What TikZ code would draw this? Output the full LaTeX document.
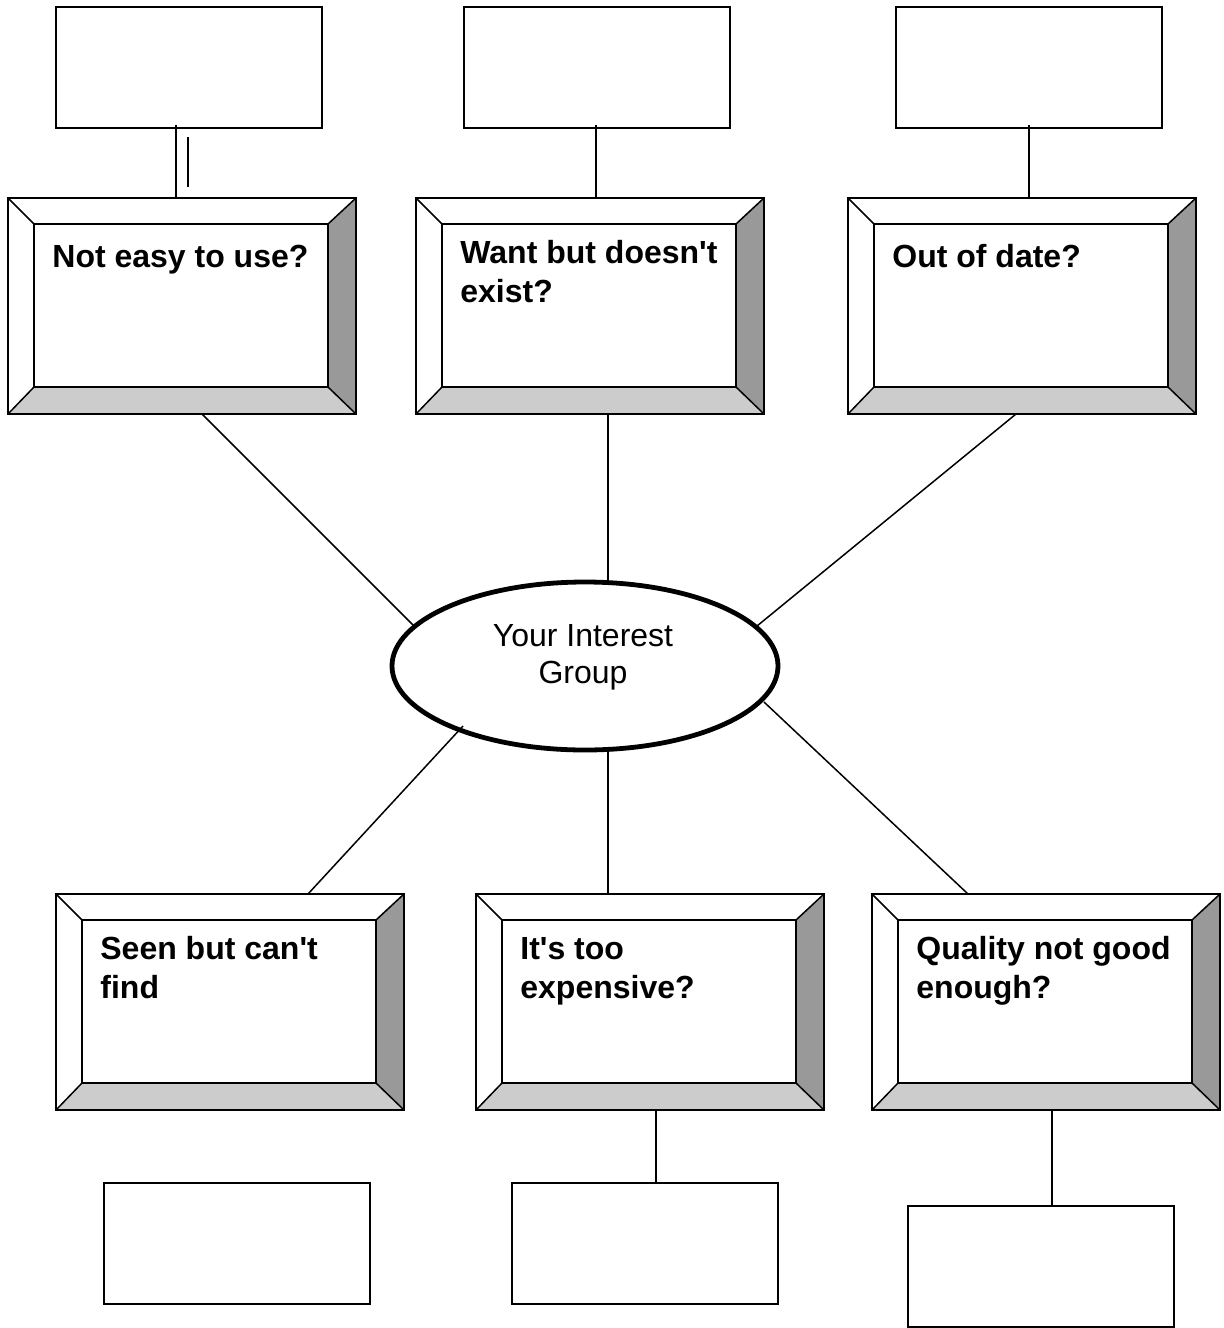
\documentclass[tikz,border=0pt]{standalone}
\usepackage{fontspec}
\setmainfont{Liberation Sans}[Ligatures=TeXOff]
\usetikzlibrary{shapes.geometric}
\definecolor{bevdark}{RGB}{153,153,153}
\definecolor{bevlight}{RGB}{204,204,204}
\tikzset{
  ln/.style={line width=0.75pt, black},
  smallbox/.style={draw, ln, rectangle, minimum width=133pt, minimum height=60.5pt, outer sep=0pt, inner sep=0pt},
  bevelbox/.style={rectangle, fill=white, minimum width=174pt, minimum height=108pt, outer sep=0pt, inner sep=0pt},
  qtext/.style={anchor=base west, align=left, inner sep=0pt, font=\fontsize{16}{19.5}\selectfont\bfseries},
  hub/.style={ellipse, draw, line width=2.4pt, fill=white, minimum width=193pt, minimum height=84pt, inner sep=0pt},
  hubtext/.style={anchor=base, align=center, inner sep=0pt, font=\fontsize{16}{18.5}\selectfont}
}
\newcommand\bevdraw[1]{%
  \fill[bevdark] (#1.north east) -- (#1.south east) -- ([shift={(-14pt,13.5pt)}]#1.south east) -- ([shift={(-14pt,-13pt)}]#1.north east) -- cycle;
  \fill[bevlight] (#1.south west) -- (#1.south east) -- ([shift={(-14pt,13.5pt)}]#1.south east) -- ([shift={(13pt,13.5pt)}]#1.south west) -- cycle;
  \draw[ln] (#1.north west) rectangle (#1.south east);
  \draw[ln] ([shift={(13pt,-13pt)}]#1.north west) rectangle ([shift={(-14pt,13.5pt)}]#1.south east);
  \draw[ln] (#1.north west) -- ([shift={(13pt,-13pt)}]#1.north west);
  \draw[ln] (#1.north east) -- ([shift={(-14pt,-13pt)}]#1.north east);
  \draw[ln] (#1.south west) -- ([shift={(13pt,13.5pt)}]#1.south west);
  \draw[ln] (#1.south east) -- ([shift={(-14pt,13.5pt)}]#1.south east);
}
\begin{document}
\begin{tikzpicture}[x=0.5pt, y=-0.5pt]
\useasboundingbox[fill=white] (0,0) rectangle (1223,1328);

% small empty boxes
\node[smallbox] (t1) at (189,67.5) {};
\node[smallbox] (t2) at (597,67.5) {};
\node[smallbox] (t3) at (1029,67.5) {};
\node[smallbox] (s1) at (237,1243.5) {};
\node[smallbox] (s2) at (645,1243.5) {};
\node[smallbox] (s3) at (1041,1266.5) {};

% bevel boxes
\node[bevelbox] (b1) at (182,306) {};
\node[bevelbox] (b2) at (590,306) {};
\node[bevelbox] (b3) at (1022,306) {};
\node[bevelbox] (b4) at (230,1002) {};
\node[bevelbox] (b5) at (650,1002) {};
\node[bevelbox] (b6) at (1046,1002) {};
\bevdraw{b1}\bevdraw{b2}\bevdraw{b3}\bevdraw{b4}\bevdraw{b5}\bevdraw{b6}

% central ellipse
\node[hub] (e) at (585,666) {};
\node[hubtext] (et) at (583,683) {Your Interest\\Group};

% connector ends
\coordinate (x1) at (188,137);
\coordinate (x2) at (188,187);
\coordinate (e1) at (414,626);
\coordinate (e2) at (608,583);
\coordinate (e3) at (757,626);
\coordinate (e4) at (463,726);
\coordinate (e5) at (608,749);
\coordinate (e6) at (764,702);

% connectors
\draw[ln] ([shift={(-6.5pt,1.5pt)}]t1.south) -- ([xshift=-3pt]b1.north);
\draw[ln] (x1) -- (x2);
\draw[ln] ([shift={(-0.5pt,1.5pt)}]t2.south) -- ([xshift=3pt]b2.north);
\draw[ln] ([shift={(0pt,1.5pt)}]t3.south) -- ([xshift=3.5pt]b3.north);
\draw[ln] ([xshift=3pt]b5.south) -- ([xshift=5.5pt]s2.north);
\draw[ln] ([xshift=3pt]b6.south) -- ([xshift=5.5pt]s3.north);

\draw[ln] ([xshift=10pt]b1.south) -- (e1);
\draw[ln] ([xshift=9pt]b2.south) -- (e2);
\draw[ln] ([xshift=-3pt]b3.south) -- (e3);
\draw[ln] ([xshift=39pt]b4.north) -- (e4);
\draw[ln] ([xshift=-21pt]b5.north) -- (e5);
\draw[ln] ([xshift=-39pt]b6.north) -- (e6);

% texts (base = baseline of the last line)
\node[qtext] (q1) at (52,267) {Not easy to use?};
\node[qtext] (q2) at (460,302) {Want but doesn't\\exist?};
\node[qtext] (q3) at (892,267) {Out of date?};
\node[qtext] (q4) at (100,998) {Seen but can't\\find};
\node[qtext] (q5) at (520,998) {It's too\\expensive?};
\node[qtext] (q6) at (916,998) {Quality not good\\enough?};
\end{tikzpicture}
\end{document}
